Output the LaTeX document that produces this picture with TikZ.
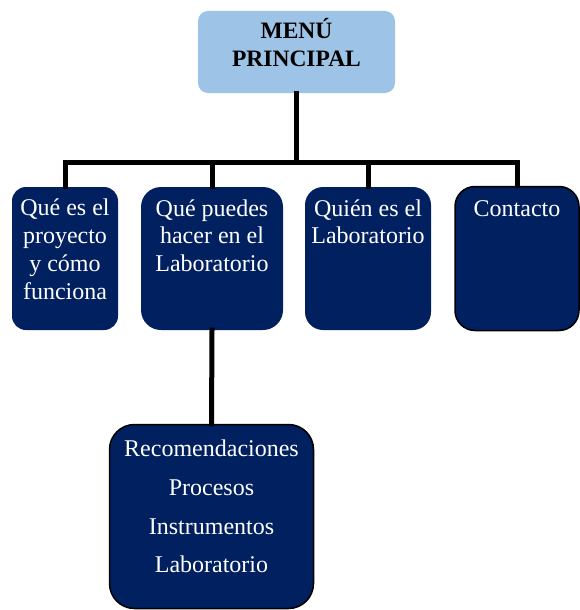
\documentclass[tikz,border=0pt]{standalone}
\usepackage{fontspec}
\setmainfont{Liberation Serif}
\definecolor{navy}{RGB}{0,32,96}
\definecolor{lightblue}{RGB}{157,195,230}
\begin{document}
\begin{tikzpicture}[x=1pt,y=-1pt,
  conn/.style={line width=5pt,line cap=rect,line join=miter},
  navybox/.style={fill=navy,draw=none,inner sep=0pt},
  txt/.style={text=white,font=\fontsize{24}{27.8}\selectfont,align=center,inner sep=0pt,anchor=base},
]
\useasboundingbox (0,0) rectangle (579,610);
% boxes
\node[fill=lightblue,rounded corners=10pt,inner sep=0pt,minimum width=197pt,minimum height=82pt] (top) at (296.5,52) {};
\node[font=\bfseries\fontsize{23.5}{28.4}\selectfont,align=center,inner sep=0pt,anchor=base] (toptxt) at (296.5,66.7) {MENÚ\\PRINCIPAL};
\node[navybox,rounded corners=14pt,minimum width=106pt,minimum height=143pt] (b1) at (65,258.5) {};
\node[navybox,rounded corners=20pt,minimum width=142pt,minimum height=143pt] (b2) at (212,258.5) {};
\node[navybox,rounded corners=18pt,minimum width=126pt,minimum height=143pt] (b3) at (368,258.5) {};
\node[navybox,draw=black,line width=1.5pt,rounded corners=20pt,minimum width=124pt,minimum height=144pt] (b4) at (517,258.5) {};
\node[navybox,draw=black,line width=1.5pt,rounded corners=25pt,minimum width=204pt,minimum height=184pt] (b5) at (211.5,516.5) {};
% texts (anchor=base is the baseline of the last line)
\node[txt] (t1) at (65,299.3) {Qué es el\\proyecto\\y cómo\\funciona};
\node[txt] (t2) at (212,271.6) {Qué puedes\\hacer en el\\Laboratorio};
\node[txt] (t3) at (368,243.8) {Quién es el\\Laboratorio};
\node[txt] (t4) at (517,216) {Contacto};
\node[txt,font=\fontsize{24}{38.7}\selectfont] (t5) at (211.5,572.7) {Recomendaciones\\Procesos\\Instrumentos\\Laboratorio};
% connectors
\coordinate (bar) at (0,162);
\draw[conn] (top.south) -- (top.south |- bar);
\draw[conn] (b1.north) -- (b1.north |- bar) -- (bar -| b4.north) -- (b4.north);
\draw[conn] (b2.north) -- (b2.north |- bar);
\draw[conn] (b3.north) -- (b3.north |- bar);
\draw[conn] (b2.south) -- (b5.north);
\end{tikzpicture}
\end{document}
